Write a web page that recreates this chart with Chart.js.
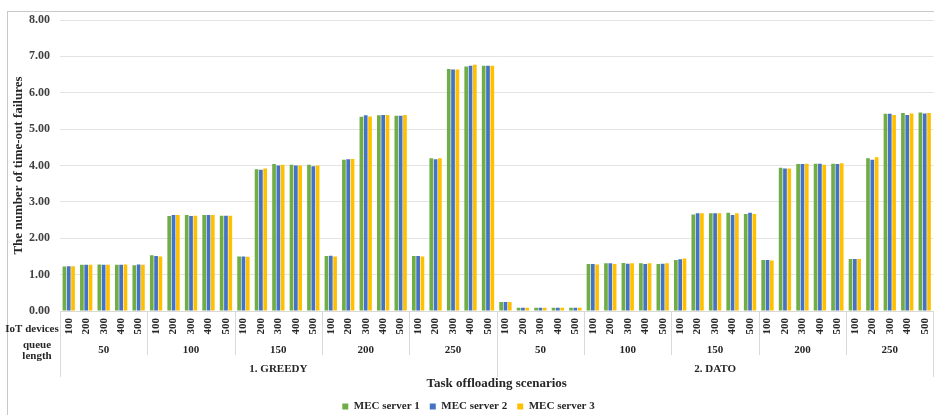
<!DOCTYPE html>
<html>
<head>
<meta charset="utf-8">
<script src="https://cdn.jsdelivr.net/npm/chart.js@4.4.1/dist/chart.umd.min.js"></script>
<style>
  html, body { margin: 0; padding: 0; background: #fff; overflow: hidden; width: 934px; height: 415px; }
  #frame { position: absolute; left: 7px; top: 11px; width: 1000px; height: 1000px; border: 1px solid #c8c8c8; box-sizing: border-box; }
  #wrap { position: absolute; left: 0; top: 0; width: 945px; height: 422px; }
</style>
</head>
<body>
<div id="frame"></div>
<div id="wrap"><canvas id="c"></canvas></div>
<script>
// ---- data ----
const algorithms = ['1. GREEDY', '2. DATO'];
const queueLengths = ['50', '100', '150', '200', '250'];
const iotDevices = ['100', '200', '300', '400', '500'];
const yTicks = [0, 1, 2, 3, 4, 5, 6, 7, 8];

const server1 = [
  1.22, 1.27, 1.28, 1.27, 1.26,
  1.53, 2.61, 2.64, 2.64, 2.62,
  1.50, 3.90, 4.04, 4.02, 4.02,
  1.51, 4.16, 5.34, 5.38, 5.37,
  1.51, 4.20, 6.65, 6.72, 6.74,
  0.25, 0.09, 0.09, 0.09, 0.09,
  1.29, 1.31, 1.32, 1.31, 1.29,
  1.40, 2.65, 2.69, 2.70, 2.67,
  1.40, 3.94, 4.04, 4.05, 4.05,
  1.43, 4.20, 5.42, 5.44, 5.46
];
const server2 = [
  1.23, 1.27, 1.27, 1.27, 1.28,
  1.51, 2.64, 2.61, 2.64, 2.62,
  1.50, 3.88, 4.00, 4.00, 3.98,
  1.52, 4.17, 5.38, 5.39, 5.37,
  1.51, 4.17, 6.64, 6.74, 6.74,
  0.25, 0.09, 0.09, 0.09, 0.09,
  1.29, 1.31, 1.30, 1.29, 1.30,
  1.42, 2.69, 2.69, 2.64, 2.70,
  1.40, 3.92, 4.04, 4.05, 4.04,
  1.43, 4.16, 5.42, 5.39, 5.43
];
const server3 = [
  1.23, 1.27, 1.27, 1.28, 1.27,
  1.50, 2.64, 2.62, 2.64, 2.62,
  1.49, 3.92, 4.02, 4.00, 4.00,
  1.50, 4.18, 5.35, 5.39, 5.39,
  1.50, 4.20, 6.64, 6.77, 6.74,
  0.25, 0.09, 0.09, 0.09, 0.09,
  1.28, 1.29, 1.31, 1.31, 1.31,
  1.44, 2.69, 2.69, 2.69, 2.67,
  1.39, 3.92, 4.05, 4.02, 4.06,
  1.43, 4.23, 5.39, 5.43, 5.44
];
const seriesNames = ['MEC server 1', 'MEC server 2', 'MEC server 3'];

// ---- build labels ----
const labels = [];
algorithms.forEach(a => queueLengths.forEach(q => iotDevices.forEach(d => labels.push(d))));

const FONT = 'Liberation Serif';
Chart.defaults.font.family = FONT;
Chart.defaults.font.weight = 'bold';
Chart.defaults.color = '#333';

const groupPlugin = {
  id: 'groups',
  afterDraw(chart) {
    const xs = chart.scales.x;
    const ctx = chart.ctx;
    const w = xs.getPixelForValue(1) - xs.getPixelForValue(0);
    const base = chart.chartArea.bottom;
    const nPer = iotDevices.length;
    const nGroups = algorithms.length * queueLengths.length;
    ctx.save();
    ctx.strokeStyle = '#d9d9d9';
    ctx.lineWidth = 1;
    for (let g = 0; g <= nGroups; g++) {
      const px = Math.round(xs.getPixelForValue(g * nPer) - w / 2) + 0.5;
      const isAlg = g % queueLengths.length === 0;
      ctx.beginPath();
      ctx.moveTo(px, base);
      ctx.lineTo(px, base + (isAlg ? 66 : 44));
      ctx.stroke();
    }
    ctx.fillStyle = '#262626';
    ctx.textAlign = 'center';
    ctx.textBaseline = 'middle';
    ctx.font = 'bold 11px "' + FONT + '"';
    for (let g = 0; g < nGroups; g++) {
      const c = (xs.getPixelForValue(g * nPer) + xs.getPixelForValue(g * nPer + nPer - 1)) / 2;
      ctx.fillText(queueLengths[g % queueLengths.length], c, base + 39);
    }
    const perAlg = nPer * queueLengths.length;
    algorithms.forEach((a, i) => {
      const c = (xs.getPixelForValue(i * perAlg) + xs.getPixelForValue(i * perAlg + perAlg - 1)) / 2;
      ctx.fillText(a, c, base + 58);
    });
    ctx.fillText('IoT devices', 32, base + 18);
    ctx.fillText('queue', 37, base + 34);
    ctx.fillText('length', 37, base + 45);
    ctx.restore();
  }
};

new Chart(document.getElementById('c'), {
  type: 'bar',
  data: {
    labels: labels,
    datasets: [
      { label: seriesNames[0], data: server1, backgroundColor: '#70AD47' },
      { label: seriesNames[1], data: server2, backgroundColor: '#4472C4' },
      { label: seriesNames[2], data: server3, backgroundColor: '#FFC000' }
    ]
  },
  options: {
    responsive: true,
    maintainAspectRatio: false,
    animation: false,
    layout: { padding: { top: 20, right: 8, left: 0, bottom: 0 } },
    datasets: { bar: { categoryPercentage: 0.74, barPercentage: 0.86 } },
    plugins: {
      legend: {
        position: 'bottom',
        labels: { boxWidth: 6, boxHeight: 6, padding: 10, color: '#262626', font: { size: 11, weight: 'bold' } }
      },
      tooltip: { enabled: false }
    },
    scales: {
      x: {
        grid: { display: false, drawTicks: false },
        border: { display: true, color: '#d9d9d9' },
        ticks: { autoSkip: false, minRotation: 90, maxRotation: 90, padding: 7, color: '#262626', font: { size: 11, weight: 'bold' } },
        title: { display: true, text: 'Task offloading scenarios', color: '#262626', font: { size: 13, weight: 'bold', lineHeight: 1 }, padding: { top: 0, bottom: 0.5 } },
        afterFit(s) { s.height = 80; }
      },
      y: {
        min: 0, max: 8,
        afterBuildTicks(s) { s.ticks = yTicks.map(v => ({ value: v })); },
        grid: { color: '#e3e3e3', drawTicks: false },
        border: { display: false },
        ticks: { padding: 10, color: '#404040', font: { size: 12, weight: 'bold' }, callback: v => Number(v).toFixed(2) },
        title: { display: true, text: 'The number of time-out failures', color: '#262626', font: { size: 13, weight: 'bold' }, padding: { top: 11, bottom: 0 } },
        afterFit(s) { s.width = 60; }
      }
    }
  },
  plugins: [groupPlugin]
});
</script>
</body>
</html>
